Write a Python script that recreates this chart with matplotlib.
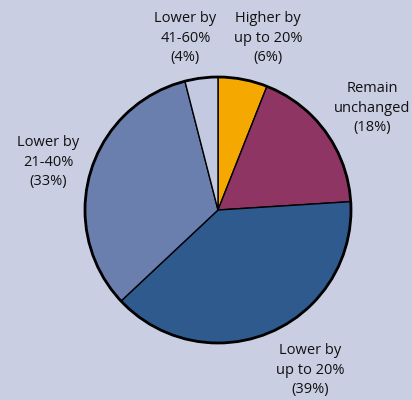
import matplotlib
matplotlib.use("Agg")
import matplotlib.pyplot as plt
from matplotlib.patches import Circle

plt.rcParams['font.family'] = ['Open Sans', 'DejaVu Sans']

# Expected change, shares of respondents (clockwise from 12 o'clock)
categories = ["Higher by\nup to 20%", "Remain\nunchanged", "Lower by\nup to 20%",
              "Lower by\n21-40%", "Lower by\n41-60%"]
shares = [6, 18, 39, 33, 4]
colors = ["#f5a800", "#8e3563", "#2e5a8e", "#6a7fae", "#c2c9e1"]
# label centres in figure fraction
label_pos = [(0.650, 0.905), (0.903, 0.730), (0.752, 0.075), (0.117, 0.595), (0.450, 0.905)]

bg = "#c9cee3"
fig = plt.figure(figsize=(4.12, 4.00), dpi=100, facecolor=bg)
ax = fig.add_axes([0.2063, 0.1425, 0.6456, 0.665])
ax.set_facecolor(bg)

wedges, _ = ax.pie(shares, colors=colors, startangle=90, counterclock=False,
                   radius=1.0, wedgeprops=dict(edgecolor="black", linewidth=1.0))
for w in wedges:
    w.set_clip_on(False)
ax.add_patch(Circle((0, 0), 1.0, fill=False, edgecolor="black", linewidth=2.0, clip_on=False))
ax.set_xlim(-1, 1)
ax.set_ylim(-1, 1)
ax.set_aspect("equal")
ax.axis("off")

for cat, val, (x, y) in zip(categories, shares, label_pos):
    fig.text(x, y, f"{cat}\n({val}%)", ha="center", va="center", fontsize=10.5,
             color="#111111", linespacing=1.45)

fig.savefig("out.png", dpi=100, facecolor=bg)
